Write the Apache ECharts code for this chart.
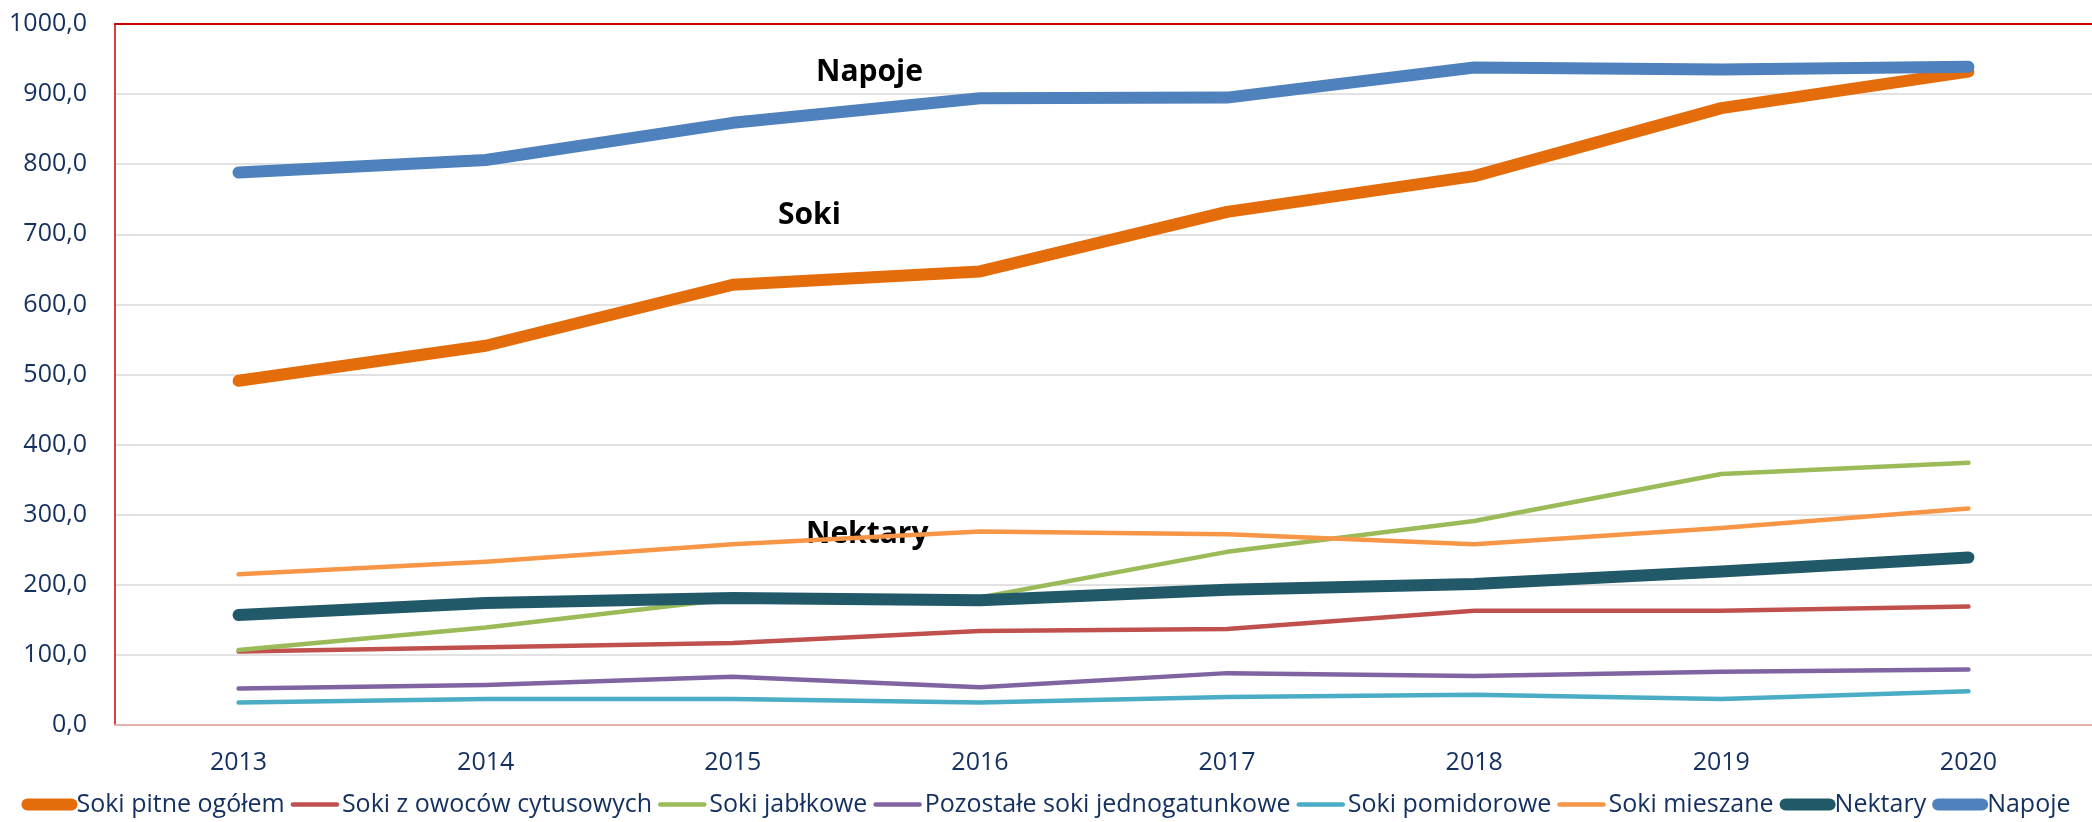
<!DOCTYPE html>
<html>
<head>
<meta charset="utf-8">
<script src="https://cdn.jsdelivr.net/npm/echarts@6/dist/echarts.min.js"></script>
<style>
  html, body { margin: 0; padding: 0; background: #fff; }
  #chart { width: 2092px; height: 822px; }
</style>
</head>
<body>
<div id="chart"></div>
<script>
// lata
var years = ['2013', '2014', '2015', '2016', '2017', '2018', '2019', '2020'];

// wartości serii
var sokiPitne = [491, 541, 628, 647, 732, 783, 880, 932];
var sokiCytrus = [105, 111, 117, 134, 137, 163, 163, 169];
var sokiJablkowe = [107, 139, 180, 182, 247, 291, 358, 374];
var sokiPozostale = [52, 57, 69, 54, 74, 70, 76, 79];
var sokiPomidorowe = [32, 37, 37, 32, 40, 43, 37, 48];
var sokiMieszane = [215, 233, 258, 276, 272, 258, 281, 309];
var nektary = [157, 174, 181, 178, 193, 201, 219, 239];
var napoje = [788, 806, 859, 894, 895, 938, 935, 939];

var textColor = '#14305f';
var font = 'Open Sans';

function makeLine(name, data, color, width) {
    return {
        name: name,
        type: 'line',
        data: data,
        showSymbol: false,
        symbol: 'none',
        silent: true,
        animation: false,
        lineStyle: {
            color: color,
            width: width,
            cap: 'round',
            join: 'round'
        },
        itemStyle: { color: color }
    };
}

var series = [
    makeLine('Soki pitne ogółem', sokiPitne, '#E46C0A', 12),
    makeLine('Soki z owoców cytusowych', sokiCytrus, '#C0504D', 4.5),
    makeLine('Soki jabłkowe', sokiJablkowe, '#9BBB59', 4.5),
    makeLine('Pozostałe soki jednogatunkowe', sokiPozostale, '#8064A2', 4.5),
    makeLine('Soki pomidorowe', sokiPomidorowe, '#4BACC6', 4.5),
    makeLine('Soki mieszane', sokiMieszane, '#F79646', 4.5),
    makeLine('Nektary', nektary, '#215968', 12),
    makeLine('Napoje', napoje, '#4F81BD', 12)
];

var chart = echarts.init(document.getElementById('chart'));
var option = {
    backgroundColor: '#fff',
    animation: false,
    grid: {
        left: 115,
        right: -3,
        top: 24,
        bottom: 97,
        show: false
    },
    legend: {
        top: 792,
        left: 'center',
        padding: 0,
        itemWidth: 44,
        itemHeight: 14,
        itemGap: 6,
        lineStyle: { width: 'inherit', cap: 'round' },
        itemStyle: { opacity: 0 },
        textStyle: {
            fontFamily: font,
            fontSize: 25,
            color: textColor
        },
        data: series.map(function (s) { return s.name; })
    },
    xAxis: [{
        type: 'category',
        data: years,
        boundaryGap: true,
        axisLine: { show: true, lineStyle: { color: '#E6B3B3', width: 2 } },
        axisTick: { show: false },
        axisLabel: {
            fontFamily: font,
            fontSize: 25,
            color: textColor,
            margin: 25
        }
    }, {
        // górna krawędź wykresu
        type: 'category',
        position: 'top',
        data: years,
        axisLine: { show: true, lineStyle: { color: '#CC0000', width: 2 } },
        axisTick: { show: false },
        axisLabel: { show: false }
    }],
    yAxis: {
        type: 'value',
        min: 0,
        max: 1000,
        interval: 100,
        axisLine: { show: true, lineStyle: { color: '#CC0000', width: 1.5 } },
        axisTick: { show: false },
        splitLine: { lineStyle: { color: '#D9D9D9', width: 1.5 } },
        axisLabel: {
            fontFamily: font,
            fontSize: 25,
            color: textColor,
            margin: 28,
            formatter: function (v) { return v.toFixed(1).replace('.', ','); }
        }
    },
    graphic: [
        { type: 'text', left: 871 - 55, top: 57, style: { text: 'Napoje', font: 'bold 30px "Open Sans"', fill: '#000' } },
        { type: 'text', left: 811 - 33, top: 200, style: { text: 'Soki', font: 'bold 30px "Open Sans"', fill: '#000' } },
        { type: 'text', left: 868 - 62, top: 519, style: { text: 'Nektary', font: 'bold 30px "Open Sans"', fill: '#000' } }
    ],
    series: series
};
chart.setOption(option);
</script>
</body>
</html>
